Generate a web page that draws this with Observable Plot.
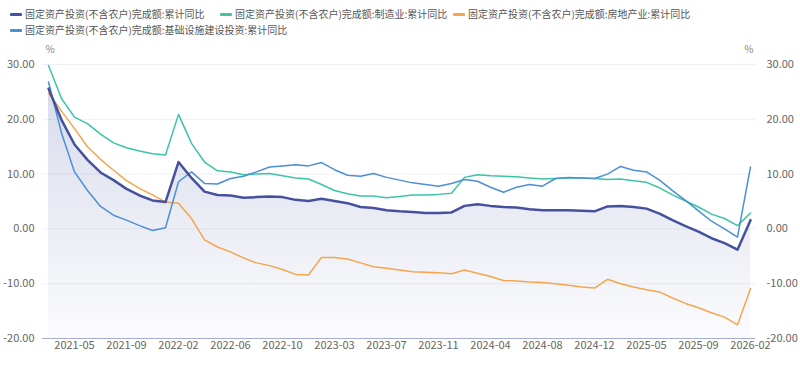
<!DOCTYPE html>
<html><head><meta charset="utf-8">
<script src="https://cdn.jsdelivr.net/npm/d3@7"></script>
<script src="https://cdn.jsdelivr.net/npm/@observablehq/plot@0.6"></script>
<style>
body{margin:0;background:#fff;font-family:"Noto Sans CJK SC","Noto Sans",sans-serif;}
#legend{position:relative;width:800px;height:36px;font-size:10px;color:#555;}
.item{position:absolute;display:flex;align-items:center;white-space:nowrap;height:14px;line-height:14px;}
.swatch{width:12px;height:3px;border-radius:1px;margin-right:3px;}
#chart svg{display:block;}
</style></head><body>
<div id="legend"></div><div id="chart"></div>
<script>
const months = ["2021-03","2021-04","2021-05","2021-06","2021-07","2021-08","2021-09","2021-10","2021-11","2021-12",
"2022-02","2022-03","2022-04","2022-05","2022-06","2022-07","2022-08","2022-09","2022-10","2022-11","2022-12",
"2023-02","2023-03","2023-04","2023-05","2023-06","2023-07","2023-08","2023-09","2023-10","2023-11","2023-12",
"2024-02","2024-03","2024-04","2024-05","2024-06","2024-07","2024-08","2024-09","2024-10","2024-11","2024-12",
"2025-02","2025-03","2025-04","2025-05","2025-06","2025-07","2025-08","2025-09","2025-10","2025-11","2025-12",
"2026-02"];

const xTicks = ["2021-05","2021-09","2022-02","2022-06","2022-10","2023-03","2023-07","2023-11","2024-04","2024-08","2024-12","2025-05","2025-09","2026-02"];
const yTicks = [-20,-10,0,10,20,30];

const seriesNames = [
  "固定资产投资(不含农户)完成额:累计同比",
  "固定资产投资(不含农户)完成额:制造业:累计同比",
  "固定资产投资(不含农户)完成额:房地产业:累计同比",
  "固定资产投资(不含农户)完成额:基础设施建设投资:累计同比"
];
const seriesColors = ["#45519e","#3cc4a6","#f6a54c","#4b8fd8"];

const fai = [25.6,19.9,15.4,12.6,10.3,8.9,7.3,6.1,5.2,4.9,
12.2,9.3,6.8,6.2,6.1,5.7,5.8,5.9,5.8,5.3,5.1,
5.5,5.1,4.7,4.0,3.8,3.4,3.2,3.1,2.9,2.9,3.0,
4.2,4.5,4.2,4.0,3.9,3.6,3.4,3.4,3.4,3.3,3.2,
4.1,4.2,4.0,3.7,2.8,1.6,0.5,-0.5,-1.7,-2.6,-3.8,
1.6];

const mfg = [29.8,23.8,20.4,19.2,17.3,15.7,14.8,14.2,13.7,13.5,
20.9,15.6,12.2,10.6,10.4,9.9,10.0,10.1,9.7,9.3,9.1,
8.1,7.0,6.4,6.0,6.0,5.7,5.9,6.2,6.2,6.3,6.5,
9.4,9.9,9.7,9.6,9.5,9.3,9.1,9.2,9.3,9.3,9.2,
9.0,9.1,8.8,8.5,7.5,6.2,5.1,4.0,2.7,1.9,0.6,
2.9];

const realEstate = [24.8,21.5,18.3,15.0,12.7,10.7,8.8,7.4,6.2,4.9,
4.7,1.9,-2.0,-3.3,-4.2,-5.3,-6.2,-6.7,-7.4,-8.3,-8.4,
-5.2,-5.2,-5.5,-6.2,-6.9,-7.2,-7.5,-7.8,-7.9,-8.0,-8.2,
-7.5,-8.1,-8.7,-9.4,-9.5,-9.7,-9.8,-10.0,-10.3,-10.6,-10.8,
-9.2,-10.0,-10.6,-11.1,-11.5,-12.6,-13.6,-14.4,-15.3,-16.1,-17.5,
-10.9];

const infra = [26.8,17.5,10.4,7.0,4.1,2.5,1.6,0.6,-0.3,0.2,
8.6,10.4,8.3,8.2,9.2,9.6,10.4,11.3,11.5,11.7,11.5,
12.1,10.8,9.8,9.6,10.1,9.4,8.9,8.4,8.1,7.8,8.3,
9.0,8.7,7.6,6.7,7.6,8.1,7.8,9.2,9.4,9.3,9.2,
10.0,11.4,10.7,10.4,8.9,7.0,5.2,3.3,1.4,0.0,-1.5,
11.3];

// legend (HTML, above the SVG)
const legendPos = [[10,7],[220,7],[453,7],[10,23]];
const legend = document.getElementById("legend");
seriesNames.forEach((name, k) => {
  const it = document.createElement("div");
  it.className = "item";
  it.style.left = legendPos[k][0] + "px";
  it.style.top = legendPos[k][1] + "px";
  const sw = document.createElement("span");
  sw.className = "swatch";
  sw.style.background = seriesColors[k];
  const tx = document.createElement("span");
  tx.textContent = name;
  it.appendChild(sw); it.appendChild(tx);
  legend.appendChild(it);
});

const rows = months.map((m, i) => ({m, fai: fai[i], mfg: mfg[i], re: realEstate[i], infra: infra[i]}));

const gradientDefs = () => {
  const defs = d3.create("svg:defs");
  const g = defs.append("linearGradient").attr("id", "faiGrad")
    .attr("x1", 0).attr("y1", 0).attr("x2", 0).attr("y2", 1);
  g.append("stop").attr("offset", 0).attr("stop-color", "#3f4f9b").attr("stop-opacity", 0.2);
  g.append("stop").attr("offset", 1).attr("stop-color", "#3f4f9b").attr("stop-opacity", 0.02);
  return defs.node();
};

const fontFam = '"Noto Sans CJK SC","Noto Sans",sans-serif';

const chart = Plot.plot({
  width: 800, height: 334,
  marginTop: 28, marginBottom: 32, marginLeft: 42, marginRight: 45,
  style: {fontFamily: fontFam, fontSize: "11px", color: "#666", background: "#fff"},
  x: {type: "point", domain: months, padding: 0.42},
  y: {domain: [-20, 30]},
  marks: [
    gradientDefs,
    Plot.ruleY(yTicks.filter(d => d > -20), {stroke: "#eef0f7", strokeWidth: 1}),
    Plot.areaY(rows, {x: "m", y1: -20, y2: "fai", fill: "url(#faiGrad)", curve: "linear"}),
    Plot.ruleY([-20], {stroke: "#a5aed2", strokeWidth: 1}),
    Plot.lineY(rows, {x: "m", y: "mfg", stroke: seriesColors[1], strokeWidth: 1.5}),
    Plot.lineY(rows, {x: "m", y: "re", stroke: seriesColors[2], strokeWidth: 1.5}),
    Plot.lineY(rows, {x: "m", y: "infra", stroke: seriesColors[3], strokeWidth: 1.5}),
    Plot.lineY(rows, {x: "m", y: "fai", stroke: seriesColors[0], strokeWidth: 2.5}),
    Plot.axisX({ticks: xTicks, tickSize: 0, tickPadding: 3, label: null, fill: "#666"}),
    Plot.axisY({anchor: "left", ticks: yTicks, tickFormat: d => d.toFixed(2), tickSize: 0, tickPadding: 8, label: null, fill: "#666"}),
    Plot.axisY({anchor: "right", ticks: yTicks, tickFormat: d => d.toFixed(2), tickSize: 0, tickPadding: 11, label: null, fill: "#666"}),
    Plot.text(["%"], {frameAnchor: "top-left", dx: 3, dy: -19, fill: "#888", fontSize: 10}),
    Plot.text(["%"], {frameAnchor: "top-right", dx: -2, dy: -19, fill: "#888", fontSize: 10})
  ]
});
document.getElementById("chart").appendChild(chart);
</script>
</body></html>
